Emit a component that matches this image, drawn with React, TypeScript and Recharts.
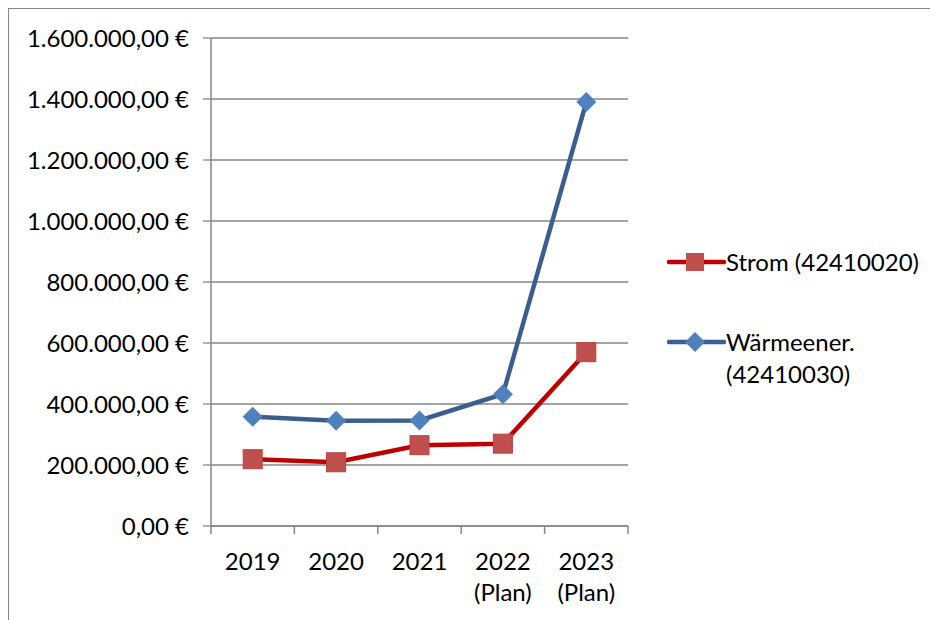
import { LineChart, Line, XAxis, YAxis, CartesianGrid, Legend } from 'recharts';

const YEARS = ['2019', '2020', '2021', '2022\n(Plan)', '2023\n(Plan)'];
const STROM = [219000, 209000, 265000, 270000, 570000];
const WAERME = [358000, 345000, 346000, 432000, 1390000];
const Y_TICKS = [0, 200000, 400000, 600000, 800000, 1000000, 1200000, 1400000, 1600000];

const RED_LINE = '#C00000';
const RED_MARK = '#C0504D';
const BLUE_LINE = '#3A5F8E';
const BLUE_MARK = '#4F81BD';
const GRID = '#868686';
const FONT = 'Lato, "Open Sans", sans-serif';
const FS = 24;

const data = YEARS.map((year, i) => ({ year, strom: STROM[i], waerme: WAERME[i] }));

function euro(v: number) {
  const s = Math.round(v).toString().replace(/\B(?=(\d{3})+(?!\d))/g, '.');
  return `${s},00 €`;
}

function SquareDot(props: any) {
  const { cx, cy, index } = props;
  return <rect key={`s${index}`} x={cx - 9.5} y={cy - 9.5} width={19} height={19} fill={RED_MARK} stroke="#B8433F" strokeWidth={1} />;
}

function DiamondDot(props: any) {
  const { cx, cy, index } = props;
  const r = 10;
  return (
    <path
      key={`d${index}`}
      d={`M${cx},${cy - r} L${cx + r},${cy} L${cx},${cy + r} L${cx - r},${cy} Z`}
      fill={BLUE_MARK}
    />
  );
}

function YearTick(props: any) {
  const { x, y, payload, index, visibleTicksCount } = props;
  const band = 417 / YEARS.length;
  const lines = String(payload.value).split('\n');
  return (
    <g>
      <line x1={x - band / 2} x2={x - band / 2} y1={y - 8} y2={y} stroke={GRID} strokeWidth={1.5} />
      {index === visibleTicksCount - 1 && (
        <line x1={x + band / 2} x2={x + band / 2} y1={y - 8} y2={y} stroke={GRID} strokeWidth={1.5} />
      )}
      {lines.map((l, i) => (
        <text key={i} x={x} y={y + 36 + i * 31} textAnchor="middle" fontSize={FS} fontFamily={FONT} fill="#000">
          {l}
        </text>
      ))}
    </g>
  );
}

function LegendBox() {
  const row = { display: 'flex', alignItems: 'flex-start', fontFamily: FONT, fontSize: FS, color: '#000', lineHeight: '32px' };
  return (
    <div>
      <div style={row}>
        <svg width={59} height={32} style={{ flex: 'none' }}>
          <line x1={2} x2={57} y1={16} y2={16} stroke={RED_LINE} strokeWidth={4.5} strokeLinecap="round" />
          <rect x={19} y={7} width={18} height={18} fill={RED_MARK} />
        </svg>
        <span>Strom (42410020)</span>
      </div>
      <div style={{ ...row, marginTop: 48 }}>
        <svg width={59} height={32} style={{ flex: 'none' }}>
          <line x1={2} x2={57} y1={16} y2={16} stroke={BLUE_LINE} strokeWidth={4.5} strokeLinecap="round" />
          <path d="M28,6 L38,16 L28,26 L18,16 Z" fill={BLUE_MARK} />
        </svg>
        <span>
          Wärmeener.
          <br />
          (42410030)
        </span>
      </div>
    </div>
  );
}

export default function App() {
  return (
    <div style={{ width: 929, height: 611, borderLeft: `1px solid ${GRID}`, borderTop: `1px solid ${GRID}`, background: '#fff', overflow: 'hidden' }}>
      <LineChart width={929} height={611} data={data} margin={{ top: 29, right: 310, bottom: 25, left: 0 }}>
        <CartesianGrid horizontal vertical={false} stroke={GRID} strokeWidth={1.3} />
        <XAxis
          dataKey="year"
          scale="band"
          interval={0}
          height={69}
          axisLine={{ stroke: GRID, strokeWidth: 1.3 }}
          tickLine={false}
          tick={<YearTick />}
        />
        <YAxis
          width={202}
          domain={[0, 1600000]}
          ticks={Y_TICKS}
          tickFormatter={euro}
          tickSize={8}
          tickMargin={14}
          axisLine={{ stroke: GRID, strokeWidth: 1.5 }}
          tickLine={{ stroke: GRID, strokeWidth: 1.3 }}
          tick={{ fill: '#000', fontSize: FS, fontFamily: FONT }}
        />
        <Legend
          layout="horizontal"
          align="center"
          verticalAlign="middle"
          content={<LegendBox />}
          wrapperStyle={{ left: 658, top: 237, width: 280 }}
        />
        <Line
          dataKey="strom"
          name="Strom (42410020)"
          stroke={RED_LINE}
          strokeWidth={4.5}
          dot={SquareDot}
          isAnimationActive={false}
        />
        <Line
          dataKey="waerme"
          name="Wärmeener. (42410030)"
          stroke={BLUE_LINE}
          strokeWidth={4.5}
          dot={DiamondDot}
          isAnimationActive={false}
        />
      </LineChart>
    </div>
  );
}
